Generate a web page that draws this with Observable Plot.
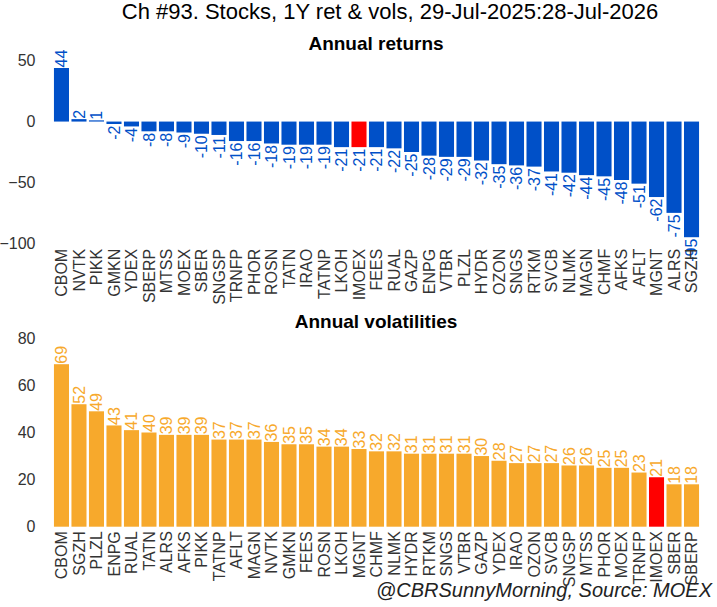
<!DOCTYPE html>
<html>
<head>
<meta charset="utf-8">
<script src="https://cdn.jsdelivr.net/npm/d3@7"></script>
<script src="https://cdn.jsdelivr.net/npm/@observablehq/plot@0.6"></script>
<style>
  html, body { margin: 0; padding: 0; background: #fff; }
  #wrap { position: relative; width: 717px; height: 607px; overflow: hidden; font-family: "Liberation Sans", Arial, sans-serif; }
  .abs { position: absolute; }
  #title { left: 0; width: 780px; top: 0; text-align: center; font-size: 22px; color: #000; line-height: 24px; }
  .sub { left: 0; width: 752px; text-align: center; font-size: 19px; font-weight: bold; color: #000; line-height: 20px; }
  #caption { right: 5px; top: 577px; font-size: 20px; font-style: italic; color: #222; line-height: 26px; }
</style>
</head>
<body>
<div id="wrap">
  <div id="p1" class="abs" style="left:0;top:0"></div>
  <div id="p2" class="abs" style="left:0;top:310px"></div>
  <div id="title" class="abs">Ch #93. Stocks, 1Y ret &amp; vols, 29-Jul-2025:28-Jul-2026</div>
  <div class="abs sub" style="top:34px">Annual returns</div>
  <div class="abs sub" style="top:312px">Annual volatilities</div>
  <div id="caption" class="abs">@CBRSunnyMorning, Source: MOEX</div>
</div>
<script>
const retTickers = ["CBOM","NVTK","PIKK","GMKN","YDEX","SBERP","MTSS","MOEX","SBER","SNGSP","TRNFP","PHOR","ROSN","TATN","IRAO","TATNP","LKOH","IMOEX","FEES","RUAL","GAZP","ENPG","VTBR","PLZL","HYDR","OZON","SNGS","RTKM","SVCB","NLMK","MAGN","CHMF","AFKS","AFLT","MGNT","ALRS","SGZH"];
const retValues = [44,2,1,-2,-4,-8,-8,-9,-10,-11,-16,-16,-18,-19,-19,-19,-21,-21,-21,-22,-25,-28,-29,-29,-32,-35,-36,-37,-41,-42,-44,-45,-48,-51,-62,-75,-95];

const volTickers = ["CBOM","SGZH","PLZL","ENPG","RUAL","TATN","ALRS","AFKS","PIKK","TATNP","AFLT","MAGN","NVTK","GMKN","FEES","ROSN","LKOH","MGNT","CHMF","NLMK","HYDR","RTKM","SNGS","VTBR","GAZP","YDEX","IRAO","OZON","SVCB","SNGSP","MTSS","PHOR","MOEX","TRNFP","IMOEX","SBER","SBERP"];
const volValues = [69,52,49,43,41,40,39,39,39,37,37,37,36,35,35,34,34,33,32,32,31,31,31,31,30,28,27,27,27,26,26,25,25,23,21,18,18];

const retTicks = [50,0,-50,-100];
const volTicks = [0,20,40,60,80];
const indexName = "IMOEX";

const BLUE = "#0050c8", ORANGE = "#f7a92c", RED = "#ff0000";

const ret = retTickers.map((t,i) => ({t, v: retValues[i]}));
const vol = volTickers.map((t,i) => ({t, v: volValues[i]}));

const common = {
  width: 717,
  marginLeft: 51.5,
  marginRight: 15.5,
  style: {fontFamily: "Liberation Sans, Arial, sans-serif", background: "transparent"}
};

const p1 = Plot.plot({
  ...common,
  height: 310,
  marginTop: 60.7,
  marginBottom: 66.7,
  x: {domain: retTickers, padding: 0.14, round: false, label: null},
  y: {domain: [-100, 50], label: null},
  marks: [
    Plot.barY(ret, {x: "t", y: "v", fill: d => d.t === indexName ? RED : BLUE}),
    Plot.text(ret.filter(d => d.v >= 0), {x: "t", y: "v", text: d => String(d.v), rotate: -90, textAnchor: "start", dy: -1, fill: BLUE, fontSize: 16}),
    Plot.text(ret.filter(d => d.v < 0), {x: "t", y: "v", text: d => String(d.v), rotate: -90, textAnchor: "end", dy: 1, fill: BLUE, fontSize: 16}),
    Plot.axisX({tickRotate: -90, tickSize: 0, tickPadding: 5, fontSize: 16, fill: "#333", label: null}),
    Plot.axisY({ticks: retTicks, tickSize: 0, tickPadding: 16.5, fontSize: 16, fill: "#333", label: null})
  ]
});
document.getElementById("p1").appendChild(p1);

const p2 = Plot.plot({
  ...common,
  height: 297,
  marginTop: 28.3,
  marginBottom: 80.3,
  x: {domain: volTickers, padding: 0.14, round: false, label: null},
  y: {domain: [0, 80], label: null},
  marks: [
    Plot.barY(vol, {x: "t", y: "v", fill: d => d.t === indexName ? RED : ORANGE}),
    Plot.text(vol, {x: "t", y: "v", text: d => String(d.v), rotate: -90, textAnchor: "start", dy: -1, fill: ORANGE, fontSize: 16}),
    Plot.axisX({tickRotate: -90, tickSize: 0, tickPadding: 4, fontSize: 16, fill: "#333", label: null}),
    Plot.axisY({ticks: volTicks, tickSize: 0, tickPadding: 16.5, fontSize: 16, fill: "#333", label: null})
  ]
});
document.getElementById("p2").appendChild(p2);
</script>
</body>
</html>
